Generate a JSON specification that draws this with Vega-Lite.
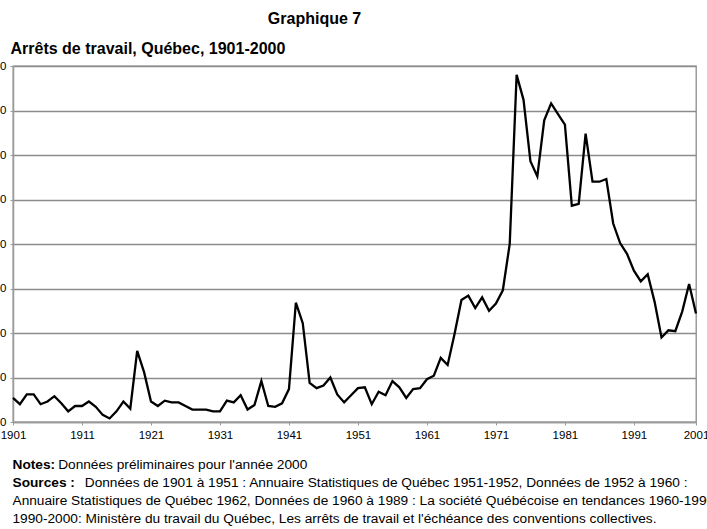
{
  "$schema": "https://vega.github.io/schema/vega-lite/v6.json",
  "width": 683,
  "height": 356,
  "autosize": {"type": "none"},
  "padding": {"left": 13, "top": 66, "right": 11, "bottom": 107},
  "background": "white",
  "title": {
    "text": "Graphique 7",
    "anchor": "middle",
    "frame": "group",
    "font": "Liberation Sans",
    "fontSize": 16,
    "fontWeight": "bold",
    "color": "black",
    "dx": -40,
    "dy": -9
  },
  "config": {
    "font": "Liberation Sans",
    "view": {"stroke": "#8c8c8c", "strokeWidth": 1.3}
  },
  "data": {
    "values": [
      {"year": 1901, "arrets": 27}, {"year": 1902, "arrets": 20}, {"year": 1903, "arrets": 31}, {"year": 1904, "arrets": 31},
      {"year": 1905, "arrets": 20}, {"year": 1906, "arrets": 23}, {"year": 1907, "arrets": 29}, {"year": 1908, "arrets": 21},
      {"year": 1909, "arrets": 12}, {"year": 1910, "arrets": 18}, {"year": 1911, "arrets": 18}, {"year": 1912, "arrets": 23},
      {"year": 1913, "arrets": 17}, {"year": 1914, "arrets": 8}, {"year": 1915, "arrets": 4}, {"year": 1916, "arrets": 12},
      {"year": 1917, "arrets": 23}, {"year": 1918, "arrets": 15}, {"year": 1919, "arrets": 80}, {"year": 1920, "arrets": 56},
      {"year": 1921, "arrets": 23}, {"year": 1922, "arrets": 18}, {"year": 1923, "arrets": 24}, {"year": 1924, "arrets": 22},
      {"year": 1925, "arrets": 22}, {"year": 1926, "arrets": 18}, {"year": 1927, "arrets": 14}, {"year": 1928, "arrets": 14},
      {"year": 1929, "arrets": 14}, {"year": 1930, "arrets": 12}, {"year": 1931, "arrets": 12}, {"year": 1932, "arrets": 24},
      {"year": 1933, "arrets": 22}, {"year": 1934, "arrets": 30}, {"year": 1935, "arrets": 14}, {"year": 1936, "arrets": 19},
      {"year": 1937, "arrets": 46}, {"year": 1938, "arrets": 18}, {"year": 1939, "arrets": 17}, {"year": 1940, "arrets": 21},
      {"year": 1941, "arrets": 37}, {"year": 1942, "arrets": 134}, {"year": 1943, "arrets": 111}, {"year": 1944, "arrets": 44},
      {"year": 1945, "arrets": 38}, {"year": 1946, "arrets": 41}, {"year": 1947, "arrets": 50}, {"year": 1948, "arrets": 31},
      {"year": 1949, "arrets": 22}, {"year": 1950, "arrets": 30}, {"year": 1951, "arrets": 38}, {"year": 1952, "arrets": 39},
      {"year": 1953, "arrets": 20}, {"year": 1954, "arrets": 34}, {"year": 1955, "arrets": 30}, {"year": 1956, "arrets": 46},
      {"year": 1957, "arrets": 39}, {"year": 1958, "arrets": 27}, {"year": 1959, "arrets": 37}, {"year": 1960, "arrets": 38},
      {"year": 1961, "arrets": 48}, {"year": 1962, "arrets": 52}, {"year": 1963, "arrets": 72}, {"year": 1964, "arrets": 64},
      {"year": 1965, "arrets": 99}, {"year": 1966, "arrets": 137}, {"year": 1967, "arrets": 142}, {"year": 1968, "arrets": 128},
      {"year": 1969, "arrets": 140}, {"year": 1970, "arrets": 125}, {"year": 1971, "arrets": 133}, {"year": 1972, "arrets": 148},
      {"year": 1973, "arrets": 200}, {"year": 1974, "arrets": 390}, {"year": 1975, "arrets": 362}, {"year": 1976, "arrets": 293},
      {"year": 1977, "arrets": 276}, {"year": 1978, "arrets": 339}, {"year": 1979, "arrets": 358}, {"year": 1980, "arrets": 346},
      {"year": 1981, "arrets": 334}, {"year": 1982, "arrets": 243}, {"year": 1983, "arrets": 245}, {"year": 1984, "arrets": 324},
      {"year": 1985, "arrets": 270}, {"year": 1986, "arrets": 270}, {"year": 1987, "arrets": 273}, {"year": 1988, "arrets": 223},
      {"year": 1989, "arrets": 201}, {"year": 1990, "arrets": 189}, {"year": 1991, "arrets": 170}, {"year": 1992, "arrets": 158},
      {"year": 1993, "arrets": 166}, {"year": 1994, "arrets": 135}, {"year": 1995, "arrets": 95}, {"year": 1996, "arrets": 103},
      {"year": 1997, "arrets": 102}, {"year": 1998, "arrets": 124}, {"year": 1999, "arrets": 155}, {"year": 2000, "arrets": 122}
    ]
  },
  "layer": [
    {
      "mark": {"type": "line", "color": "black", "strokeWidth": 2.3},
      "encoding": {
        "x": {
          "field": "year",
          "type": "quantitative",
          "scale": {"domain": [1901, 2000], "nice": false, "zero": false},
          "axis": {
            "values": [1901, 1906, 1911, 1916, 1921, 1926, 1931, 1936, 1941, 1946, 1951, 1956, 1961, 1966, 1971, 1976, 1981, 1986, 1991, 1996, 2000],
            "format": "d",
            "labelExpr": "datum.value == 2000 ? '2001' : ((datum.value - 1901) % 10 == 0 ? datum.label : '')",
            "grid": false,
            "domainColor": "#9a9a9a",
            "domainWidth": 1.5,
            "tickColor": "#9a9a9a",
            "tickSize": 3,
            "labelFont": "Liberation Sans",
            "labelFontSize": 11.5,
            "labelColor": "black",
            "labelPadding": 4,
            "labelFlush": false,
            "labelOverlap": false,
            "title": [
              "\u200b\u00a0\u00a0\u00a0\u00a0\u00a0\u00a0\u00a0\u00a0\u00a0\u00a0\u00a0\u00a0Données préliminaires pour l'année 2000",
              "\u200b\u00a0\u00a0\u00a0\u00a0\u00a0\u00a0\u00a0\u00a0\u00a0\u00a0\u00a0\u00a0\u00a0\u00a0\u00a0\u00a0\u00a0\u00a0\u00a0Données de 1901 à 1951 : Annuaire Statistiques de Québec 1951-1952, Données de 1952 à 1960 :",
              "Annuaire Statistiques de Québec 1962, Données de 1960 à 1989 : La société Québécoise en tendances 1960-1990",
              "1990-2000: Ministère du travail du Québec, Les arrêts de travail et l'échéance des conventions collectives."
            ],
            "titleX": -1,
            "titleY": 46.3,
            "titleAlign": "left",
            "titleAnchor": "start",
            "titleBaseline": "alphabetic",
            "titleFont": "Liberation Sans",
            "titleFontWeight": "normal",
            "titleFontSize": 13.7,
            "titleLineHeight": 18,
            "titleColor": "black"
          }
        },
        "y": {
          "field": "arrets",
          "type": "quantitative",
          "scale": {"domain": [0, 400], "nice": false},
          "axis": {
            "values": [0, 50, 100, 150, 200, 250, 300, 350, 400],
            "grid": true,
            "gridColor": "#8c8c8c",
            "gridWidth": 1.3,
            "domainColor": "#9a9a9a",
            "domainWidth": 1.5,
            "tickColor": "#9a9a9a",
            "tickSize": 3,
            "labelPadding": 4,
            "labelFont": "Liberation Sans",
            "labelFontSize": 11.5,
            "labelColor": "black",
            "title": "Arrêts de travail, Québec, 1901-2000",
            "titleAngle": 0,
            "titleAlign": "left",
            "titleBaseline": "alphabetic",
            "titleX": -3,
            "titleY": -12.7,
            "titleFont": "Liberation Sans",
            "titleFontSize": 16,
            "titleFontWeight": "bold",
            "titleColor": "black"
          }
        }
      }
    },
    {
      "mark": {"type": "line", "opacity": 0},
      "encoding": {
        "x": {"field": "year", "type": "quantitative"},
        "y": {
          "field": "arrets",
          "type": "quantitative",
          "scale": {"domain": [0, 400], "nice": false},
          "axis": {
            "orient": "right",
            "labels": false,
            "ticks": false,
            "domain": false,
            "grid": false,
            "title": ["Notes:", "Sources :"],
            "titleAngle": 0,
            "titleAlign": "left",
            "titleBaseline": "alphabetic",
            "titleX": -684,
            "titleY": 402.3,
            "titleFont": "Liberation Sans",
            "titleFontSize": 13.7,
            "titleFontWeight": "bold",
            "titleLineHeight": 18,
            "titleColor": "black"
          }
        }
      }
    }
  ],
  "resolve": {"scale": {"y": "independent"}, "axis": {"y": "independent"}}
}
